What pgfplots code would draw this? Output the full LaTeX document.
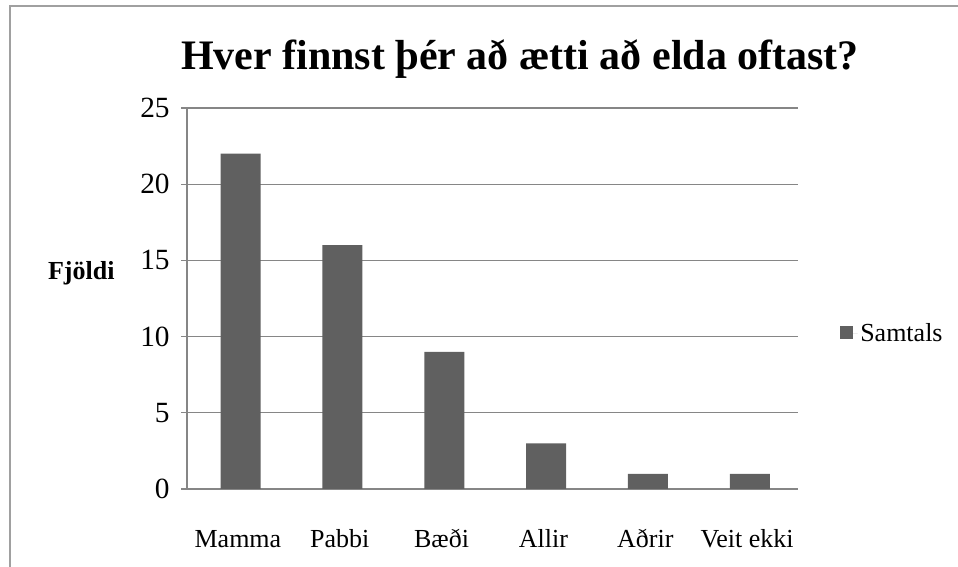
\documentclass[border=0pt]{standalone}
\usepackage{pgfplots}
\pgfplotsset{compat=1.18}
\usepackage{fontspec}
\setmainfont{Liberation Serif}
\definecolor{barcol}{HTML}{606060}
\definecolor{gridcol}{HTML}{868686}
\definecolor{framecol}{HTML}{A0A0A0}
\begin{document}
\begin{tikzpicture}
\useasboundingbox (0,0) rectangle (718.5pt,425.25pt);
% chart frame (runs off to the right and bottom)
\draw[framecol, line width=1.6pt] (7.5pt,0) -- (7.5pt,420.75pt) -- (718.5pt,420.75pt);
\node[font=\fontsize{31.5}{36}\selectfont\bfseries] at (390pt,381pt) {Hver finnst þér að ætti að elda oftast?};
\node[font=\fontsize{19.5}{23}\selectfont\bfseries] at (61pt,220pt) {Fjöldi};
\begin{axis}[
  at={(140.25pt,58.5pt)}, anchor=south west,
  scale only axis, width=458.25pt, height=285.75pt,
  xmin=-0.5, xmax=5.5, ymin=0, ymax=25,
  ytick={0,5,...,25},
  xtick={0,...,5},
  xticklabels={Mamma,Pabbi,Bæði,Allir,Aðrir,Veit ekki},
  major x tick style={draw=none},
  extra x ticks={-0.5,0.5,...,5.5},
  extra x tick labels={},
  extra x tick style={major tick length=5.5pt, tick style={gridcol, line width=0.9pt}},
  axis x line*=bottom, axis y line*=left,
  axis line style={gridcol, line width=0.9pt, -},
  tick align=outside, major tick length=4.5pt,
  tick style={gridcol, line width=0.9pt},
  ymajorgrids, grid style={gridcol, line width=0.9pt},
  xticklabel style={font=\fontsize{19.5}{23}\selectfont, anchor=base, yshift=-39.5pt},
  yticklabel style={font=\fontsize{22}{26}\selectfont, xshift=-5pt},
  /pgf/number format/assume math mode=true,
  legend style={at={(1,0.5)}, anchor=west, xshift=31.5pt, yshift=-26pt, draw=none,
    font=\fontsize{19.5}{23}\selectfont, inner sep=0pt},
  legend image code/.code={\fill[barcol] (0pt,-4.5pt) rectangle (9.5pt,5pt);
    \path (0pt,0pt) -- (13pt,0pt);},
]
\addplot[ybar, bar width=30pt, fill=barcol, draw=none, bar shift=2pt] coordinates {
  (0,22) (1,16) (2,9) (3,3) (4,1) (5,1)
};
\legend{Samtals}
\end{axis}
\end{tikzpicture}
\end{document}
